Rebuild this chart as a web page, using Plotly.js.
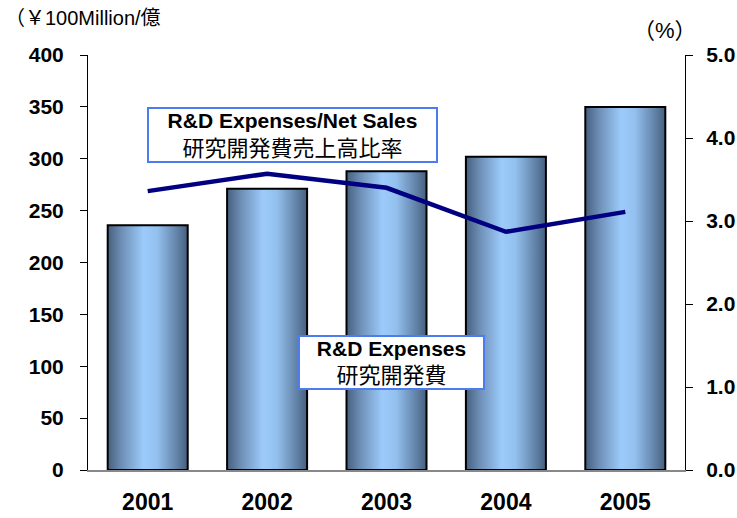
<!DOCTYPE html>
<html>
<head>
<meta charset="utf-8">
<script src="https://cdn.plot.ly/plotly-3.0.1.min.js"></script>
<style>html,body{margin:0;padding:0;background:#fff;}#chart{width:737px;height:518px;}</style>
</head>
<body>
<div id="chart"></div>
<script>
const years = ['2001', '2002', '2003', '2004', '2005'];
const rdExpenses = [236, 271, 288, 302, 350];
const rdRatio = [3.36, 3.57, 3.40, 2.87, 3.11];
const leftTicks = [0, 50, 100, 150, 200, 250, 300, 350, 400];
const rightTicks = [0, 1, 2, 3, 4, 5];

const sans = 'Liberation Sans, Arial, sans-serif';
const yTickFont = {family: sans, size: 21, weight: 'bold', color: '#000'};
const xTickFont = {family: sans, size: 23, weight: 'bold', color: '#000'};
const annFont = {family: 'Liberation Sans, Noto Sans CJK JP, sans-serif', size: 21, color: '#000'};
const cornerFont = {family: 'Liberation Sans, Noto Sans CJK JP, sans-serif', size: 20, color: '#000'};

const traces = [
  {
    type: 'bar', x: years, y: rdExpenses, width: 0.67,
    marker: {color: '#7fa6d3', line: {color: '#000', width: 2}},
    hoverinfo: 'skip', name: 'R&D Expenses'
  },
  {
    type: 'scatter', mode: 'lines', x: years, y: rdRatio, yaxis: 'y2',
    line: {color: '#000080', width: 4.5}, hoverinfo: 'skip', name: 'Ratio'
  }
];

const layout = {
  width: 737, height: 518,
  margin: {l: 88, r: 52, t: 55, b: 48},
  paper_bgcolor: '#fff', plot_bgcolor: '#fff',
  showlegend: false,
  xaxis: {
    type: 'category', showgrid: false, zeroline: false,
    showline: true, linecolor: '#888', linewidth: 2,
    ticks: '', tickfont: xTickFont, ticklabelstandoff: 10
  },
  yaxis: {
    range: [0, 400], tickvals: leftTicks, showgrid: false, zeroline: false,
    showline: true, linecolor: '#000', linewidth: 1,
    ticks: 'outside', ticklen: 7, tickcolor: '#000', tickfont: yTickFont, ticklabelstandoff: 12
  },
  yaxis2: {
    overlaying: 'y', side: 'right', range: [0, 5], tickvals: rightTicks, tickformat: '.1f',
    showgrid: false, zeroline: false, showline: true, linecolor: '#000', linewidth: 1,
    ticks: 'outside', ticklen: 7, tickcolor: '#000', tickfont: yTickFont, ticklabelstandoff: 9
  },
  annotations: [
    {xref: 'paper', yref: 'paper', x: -0.142, y: 1.089, xanchor: 'left', yanchor: 'middle',
     text: '（￥100Million/億', showarrow: false, font: cornerFont},
    {xref: 'paper', yref: 'paper', x: 0.966, y: 1.058, xanchor: 'center', yanchor: 'middle',
     text: '（%）', showarrow: false, font: {family: cornerFont.family, size: 22, color: '#000'}},
    {xref: 'paper', yref: 'paper', x: 0.342, y: 0.807, xanchor: 'center', yanchor: 'middle',
     text: '<b><span style="font-size:21px">R&D Expenses/Net Sales</span></b><br><span style="font-size:22px">研究開発費売上高比率</span>', showarrow: false,
     font: annFont, bgcolor: '#fff', bordercolor: '#4d7cf0', borderwidth: 2,
     width: 285, height: 50, borderpad: 1},
    {xref: 'paper', yref: 'paper', x: 0.508, y: 0.258, xanchor: 'center', yanchor: 'middle',
     text: '<b><span style="font-size:21px">R&D Expenses</span></b><br><span style="font-size:22px">研究開発費</span>', showarrow: false,
     font: annFont, bgcolor: '#fff', bordercolor: '#4d7cf0', borderwidth: 2,
     width: 181, height: 49, borderpad: 1}
  ]
};

Plotly.newPlot('chart', traces, layout, {staticPlot: true}).then(function (gd) {
  const svg = gd.querySelector('svg.main-svg');
  const ns = 'http://www.w3.org/2000/svg';
  let defs = svg.querySelector('defs');
  if (!defs) { defs = document.createElementNS(ns, 'defs'); svg.insertBefore(defs, svg.firstChild); }
  const grad = document.createElementNS(ns, 'linearGradient');
  grad.setAttribute('id', 'barGrad');
  grad.setAttribute('x1', '0'); grad.setAttribute('x2', '1');
  grad.setAttribute('y1', '0'); grad.setAttribute('y2', '0');
  [[0, '#46607e'], [0.18, '#6f90b8'], [0.45, '#9ccbfb'], [0.62, '#93c0ee'], [0.85, '#6687ad'], [1, '#45607e']].forEach(function (s) {
    const st = document.createElementNS(ns, 'stop');
    st.setAttribute('offset', s[0]);
    st.setAttribute('stop-color', s[1]);
    grad.appendChild(st);
  });
  defs.appendChild(grad);
  gd.querySelectorAll('.barlayer .point path').forEach(function (p) {
    p.style.fill = 'url(#barGrad)';
  });
});
</script>
</body>
</html>
